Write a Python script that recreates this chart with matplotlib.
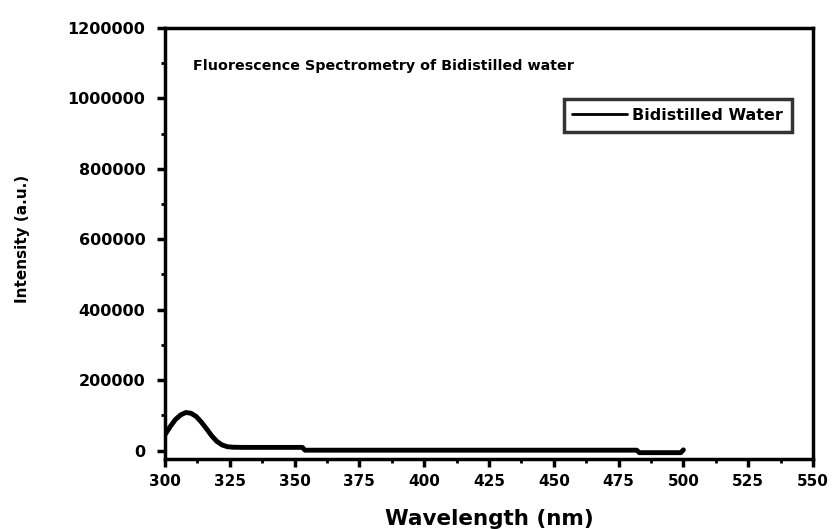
import matplotlib
matplotlib.use("Agg")
import matplotlib.pyplot as plt
from matplotlib.ticker import MultipleLocator, FuncFormatter

wavelength = [300, 302, 304, 306, 308, 310, 312, 314, 316, 318, 320, 322, 324, 326,
              330, 340, 350, 353, 354, 380, 420, 460, 482, 483, 490, 499, 500]
intensity = [45000, 68000, 88000, 101000, 108000, 106000, 97000, 81000, 62000, 42000,
             26000, 16000, 11000, 9500, 9000, 9000, 9000, 9000, 1000, 1000, 1000, 1000,
             1000, -6000, -6000, -6000, 2000]

series_label = "Bidistilled Water"
title_text = "Fluorescence Spectrometry of Bidistilled water"

plt.rcParams['font.family'] = ['DejaVu Sans']
plt.rcParams['font.weight'] = 'bold'

fig = plt.figure(figsize=(8.34, 5.29), dpi=100)
ax = fig.add_axes([165/834, 1 - 459/529, (813-165)/834, (459-28)/529])

ax.plot(wavelength, intensity, color='black', lw=3.5, label=series_label,
        solid_capstyle='round', solid_joinstyle='round')

ax.set_xlim(300, 550)
ax.set_ylim(-24000, 1200000)
ax.xaxis.set_major_locator(MultipleLocator(25))
ax.xaxis.set_minor_locator(MultipleLocator(12.5))
ax.yaxis.set_major_locator(MultipleLocator(200000))
ax.yaxis.set_minor_locator(MultipleLocator(100000))
ax.yaxis.set_major_formatter(FuncFormatter(lambda v, p: f"{int(round(v))}"))
ax.tick_params(which='major', direction='out', length=6, width=2.5)
ax.tick_params(axis='x', labelsize=11, pad=5)
ax.tick_params(axis='y', labelsize=11.5, pad=8)
ax.tick_params(which='minor', direction='out', length=3, width=2)
ax.tick_params(top=False, right=False)
for s in ax.spines.values():
    s.set_linewidth(2.5)
for lab in ax.get_xticklabels() + ax.get_yticklabels():
    lab.set_fontweight('bold')

ax.set_xlabel("Wavelength (nm)", fontsize=15.5, fontweight='bold', labelpad=14)
ax.set_ylabel("Intensity (a.u.)", fontsize=11, fontweight='bold')
ax.yaxis.set_label_coords(-0.208, 0.51)

ax.text(0.043, 0.912, title_text, transform=ax.transAxes, fontsize=10.3,
        fontweight='bold', va='center', ha='left')

leg = ax.legend(loc='upper right', bbox_to_anchor=(0.9676, 0.835), frameon=True,
                fancybox=False, edgecolor='black', fontsize=11.5, handlelength=3.4,
                borderpad=0.55, handletextpad=0.35, borderaxespad=0)
leg.get_frame().set_linewidth(2.5)
for line in leg.get_lines():
    line.set_linewidth(2)
for t in leg.get_texts():
    t.set_fontweight('bold')

fig.savefig("out.png", dpi=100)
